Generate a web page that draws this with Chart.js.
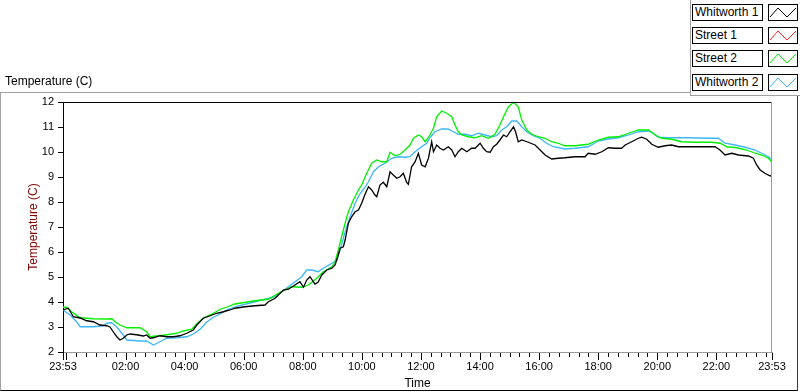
<!DOCTYPE html>
<html>
<head>
<meta charset="utf-8">
<script src="https://cdn.jsdelivr.net/npm/chart.js@4.4.1/dist/chart.umd.min.js"></script>
<style>
    body { margin: 0; background: #fff; font-family: "Liberation Sans", Arial, sans-serif; }
    #wrap { position: relative; width: 800px; height: 392px; overflow: hidden; }
    #frame {
        position: absolute; left: 0; top: 92px; width: 796px; height: 297px;
        border-left: 1px solid #a0a0a0; border-top: 1px solid #a0a0a0;
        border-right: 1px solid #404040; border-bottom: 1px solid #000;
    }
    #chart { position: absolute; left: 0; top: 0; }
    #title { position: absolute; left: 5px; top: 74px; font-size: 12px; color: #000; }
    #legend {
        position: absolute; left: 690px; top: 0; width: 110px; height: 95px; background: #fff;
        border-left: 1px solid #a0a0a0; border-bottom: 1px solid #a0a0a0;
    }
    .row { position: absolute; left: 1px; height: 17px; }
    .name {
        position: absolute; left: 0; top: 0; height: 15px; border: 1px solid #000;
        font-size: 12px; line-height: 15px; padding-left: 2px; width: 67px; white-space: nowrap;
    }
    .icon { position: absolute; left: 76px; top: 0; width: 28px; height: 15px; border: 1px solid #000; }
</style>
</head>
<body>
<div id="wrap">
    <div id="frame"></div>
    <canvas id="chart" width="800" height="392"></canvas>
    <div id="title">Temperature (C)</div>
    <div id="legend"></div>
</div>
<script>
// ===================== Data =====================
// time in hours since 23:53, temperature in C
const seriesNames = ['Whitworth 1', 'Street 1', 'Street 2', 'Whitworth 2'];
const seriesColors = ['#000000', '#ff2020', '#00f000', '#3cb6f5'];

const whitworth1Hours = [0.00,0.18,0.35,0.58,0.80,1.03,1.25,1.48,1.59,1.70,1.82,1.93,2.04,2.16,2.27,2.49,2.72,2.83,2.95,3.06,
    3.28,3.51,3.74,3.96,4.19,4.41,4.53,4.75,4.98,5.20,5.43,5.65,5.82,6.16,6.50,6.84,6.95,7.18,7.46,7.63,
    7.85,8.02,8.14,8.25,8.36,8.53,8.64,8.76,8.93,9.10,9.21,9.30,9.38,9.49,9.55,9.66,9.77,9.89,10.00,10.11,
    10.22,10.34,10.45,10.56,10.62,10.73,10.84,10.96,11.07,11.18,11.30,11.41,11.52,11.63,11.69,11.80,11.92,12.03,12.14,12.26,
    12.37,12.48,12.54,12.65,12.76,12.88,13.04,13.16,13.27,13.38,13.50,13.67,13.83,13.95,14.12,14.23,14.34,14.46,14.57,14.68,
    14.79,14.91,15.02,15.13,15.25,15.32,15.41,15.53,15.75,15.98,16.15,16.32,16.54,16.77,16.99,17.33,17.67,17.78,18.01,18.24,
    18.46,18.69,18.91,19.03,19.25,19.48,19.59,19.76,19.93,20.15,20.38,20.60,20.83,21.17,21.51,21.85,22.07,22.24,22.41,22.64,
    22.86,23.20,23.37,23.48,23.60,23.76,23.93,24.00];
const whitworth1Temp = [3.68,3.75,3.41,3.36,3.25,3.21,3.08,3.05,3.00,2.81,2.61,2.48,2.55,2.68,2.72,2.69,2.64,2.68,2.55,2.57,
    2.65,2.61,2.61,2.65,2.75,2.88,3.08,3.35,3.45,3.55,3.61,3.68,3.75,3.81,3.85,3.88,4.01,4.15,4.48,4.51,
    4.68,4.81,4.59,4.88,5.01,4.72,4.80,5.08,5.28,5.35,5.48,5.81,6.15,6.21,6.48,7.15,7.41,7.61,7.68,7.95,
    8.30,8.61,8.48,8.28,8.21,8.68,8.79,8.61,9.21,9.08,8.95,9.01,9.15,8.79,8.71,9.41,9.61,9.95,9.48,9.41,
    9.75,10.41,10.01,10.28,10.15,10.08,10.21,10.08,9.81,10.01,10.15,10.01,10.15,10.15,10.35,10.15,10.01,9.99,10.21,10.31,
    10.48,10.68,10.61,10.81,11.01,10.81,10.41,10.48,10.39,10.28,10.08,9.88,9.72,9.75,9.77,9.81,9.81,9.95,9.91,10.01,
    10.17,10.15,10.15,10.28,10.41,10.55,10.59,10.51,10.31,10.19,10.25,10.28,10.21,10.21,10.21,10.21,10.21,10.08,9.88,9.95,
    9.88,9.84,9.75,9.48,9.28,9.15,9.05,9.04];

// Street 1 has no samples in the picture
const street1Hours = [];
const street1Temp = [];

const street2Hours = [0.00,0.12,0.29,0.58,1.03,1.48,1.65,1.76,1.93,2.16,2.61,2.83,2.95,3.06,3.28,3.51,3.85,4.07,4.36,4.53,
    4.75,5.09,5.32,5.54,5.82,6.50,6.95,7.29,7.74,8.08,8.31,8.59,8.81,9.10,9.21,9.32,9.43,9.55,9.66,9.83,
    10.00,10.11,10.28,10.45,10.62,10.79,10.96,11.07,11.24,11.41,11.58,11.75,11.86,12.03,12.14,12.26,12.42,12.54,12.65,12.82,
    12.99,13.16,13.27,13.38,13.50,13.72,13.95,14.17,14.40,14.62,14.79,14.91,15.08,15.25,15.41,15.53,15.70,15.87,16.09,16.32,
    16.54,16.77,16.99,17.33,17.78,18.12,18.46,18.80,19.14,19.48,19.82,20.04,20.27,20.60,20.94,21.39,21.96,22.24,22.47,22.80,
    23.14,23.43,23.65,23.88,24.00];
const street2Temp = [3.79,3.79,3.61,3.37,3.33,3.32,3.33,3.21,3.08,2.97,2.97,2.81,2.61,2.63,2.65,2.69,2.75,2.84,2.91,3.13,
    3.36,3.55,3.71,3.79,3.92,4.05,4.11,4.35,4.61,4.59,4.68,4.95,5.21,5.41,5.61,6.08,6.61,7.15,7.61,8.08,
    8.48,8.68,9.15,9.55,9.68,9.61,9.61,9.99,9.85,9.91,10.08,10.28,10.55,10.68,10.61,10.41,10.68,10.95,11.41,11.64,
    11.55,11.41,11.08,10.81,10.68,10.61,10.57,10.65,10.55,10.71,11.08,11.41,11.81,11.99,11.81,11.28,10.88,10.71,10.61,10.55,
    10.41,10.35,10.25,10.25,10.31,10.48,10.59,10.61,10.75,10.88,10.88,10.68,10.55,10.51,10.41,10.39,10.39,10.35,10.21,10.17,
    10.08,9.95,9.88,9.75,9.59];

const whitworth2Hours = [0.00,0.24,0.46,0.58,1.03,1.37,1.48,1.65,1.82,2.04,2.16,2.61,2.83,3.06,3.28,3.51,3.85,4.19,4.41,4.64,
    4.86,5.09,5.32,5.54,5.85,6.50,7.18,7.63,8.08,8.25,8.42,8.64,8.81,9.10,9.27,9.38,9.55,9.72,9.89,10.06,
    10.20,10.34,10.51,10.68,10.90,11.13,11.35,11.58,11.75,11.92,12.14,12.31,12.42,12.59,12.82,13.04,13.21,13.38,13.61,13.83,
    14.06,14.29,14.51,14.68,14.85,15.02,15.19,15.36,15.53,15.70,15.92,16.15,16.37,16.60,16.99,17.33,17.78,18.12,18.46,18.80,
    19.14,19.48,19.82,19.98,20.15,20.49,21.17,21.85,22.18,22.41,22.75,23.09,23.43,23.65,23.88,24.00];
const whitworth2Temp = [3.68,3.48,3.21,3.01,3.01,3.05,3.15,3.17,3.00,2.68,2.48,2.44,2.44,2.28,2.41,2.55,2.57,2.61,2.72,2.91,
    3.19,3.39,3.52,3.68,3.82,4.01,4.21,4.61,5.01,5.28,5.28,5.21,5.35,5.55,5.68,6.08,6.81,7.41,7.95,8.35,
    8.55,8.81,9.21,9.41,9.55,9.75,9.81,9.79,9.81,10.01,10.21,10.35,10.57,10.81,10.92,10.92,10.81,10.71,10.71,10.65,
    10.75,10.68,10.61,10.65,10.88,11.01,11.24,11.24,11.01,10.81,10.65,10.55,10.35,10.21,10.12,10.15,10.21,10.44,10.52,10.57,
    10.68,10.81,10.84,10.75,10.59,10.57,10.57,10.55,10.55,10.35,10.28,10.19,10.08,9.95,9.81,9.68];

// labelled ticks on the time axis (hours since 23:53)
const xTickHours = [0, 2.1167, 4.1167, 6.1167, 8.1167, 10.1167, 12.1167, 14.1167, 16.1167, 18.1167, 20.1167, 22.1167, 24];
const xTickLabels = ['23:53', '02:00', '04:00', '06:00', '08:00', '10:00', '12:00', '14:00', '16:00', '18:00', '20:00', '22:00', '23:53'];

const seriesHours = [whitworth1Hours, street1Hours, street2Hours, whitworth2Hours];
const seriesTemp = [whitworth1Temp, street1Temp, street2Temp, whitworth2Temp];

// ===================== Chart =====================
Chart.defaults.font.family = '"Liberation Sans", Arial, sans-serif';
Chart.defaults.color = '#000';

// plot frame (top/right) and the minor/major time tick marks
const plotFrame = {
    id: 'plotFrame',
    afterDraw(chart) {
        const { ctx, chartArea: a, scales: { x } } = chart;
        ctx.save();
        ctx.lineWidth = 1;
        ctx.strokeStyle = '#000';
        ctx.beginPath();
        ctx.moveTo(a.left, a.top + 0.5);
        ctx.lineTo(a.right, a.top + 0.5);
        ctx.stroke();
        ctx.strokeStyle = '#9a9a9a';
        ctx.beginPath();
        ctx.moveTo(a.right - 0.5, a.top);
        ctx.lineTo(a.right - 0.5, a.bottom);
        ctx.stroke();

        ctx.strokeStyle = '#000';
        ctx.beginPath();
        const mark = (h, len) => {
            const px = Math.round(x.getPixelForValue(h)) + 0.5;
            ctx.moveTo(px, a.bottom + 1);
            ctx.lineTo(px, a.bottom + 1 + len);
        };
        mark(0, 7);
        mark(24, 7);
        for (let k = 0; k <= 71; k++) {
            mark(7 / 60 + k / 3, k % 6 === 0 ? 7 : 4);
        }
        ctx.stroke();
        ctx.restore();
    }
};

const ctx = document.getElementById('chart').getContext('2d');
const tempChart = new Chart(ctx, {
    type: 'line',
    data: {
        datasets: seriesNames.map((name, i) => ({
            label: name,
            data: seriesHours[i].map((h, j) => ({ x: h, y: seriesTemp[i][j] })),
            borderColor: seriesColors[i],
            backgroundColor: seriesColors[i],
            borderWidth: 1.3,
            pointRadius: 0,
            tension: 0,
            fill: false
        }))
    },
    options: {
        responsive: false,
        animation: false,
        devicePixelRatio: 1,
        layout: { padding: { left: 0, top: 102, right: 28, bottom: 0 } },
        plugins: {
            legend: { display: false },
            tooltip: { enabled: false }
        },
        scales: {
            x: {
                type: 'linear',
                min: 0,
                max: 24,
                afterBuildTicks: scale => {
                    scale.ticks = xTickHours.map(v => ({ value: v }));
                },
                afterFit: scale => { scale.height = 40; },
                ticks: {
                    autoSkip: false,
                    maxRotation: 0,
                    padding: 1,
                    font: { size: 11 },
                    callback: (value, index) => xTickLabels[index]
                },
                grid: { display: false, drawTicks: true, tickLength: 7 },
                border: { color: '#9a9a9a' },
                title: {
                    display: true,
                    text: 'Time',
                    font: { size: 12 },
                    padding: { top: 0, bottom: 1 }
                }
            },
            y: {
                min: 2,
                max: 12,
                afterFit: scale => { scale.width = 63; },
                ticks: { stepSize: 1, padding: 4, font: { size: 11 } },
                grid: { drawOnChartArea: false, tickLength: 5, tickColor: '#000' },
                border: { color: '#000' },
                title: {
                    display: true,
                    text: 'Temperature (C)',
                    color: '#800000',
                    font: { size: 12 },
                    padding: { top: 26, bottom: 0 }
                }
            }
        }
    },
    plugins: [plotFrame]
});

// ===================== Legend =====================
function buildLegend(chart) {
    const box = document.getElementById('legend');
    const tops = [4, 27, 50, 74];
    chart.data.datasets.forEach((ds, i) => {
        const row = document.createElement('div');
        row.className = 'row';
        row.style.top = tops[i] + 'px';
        row.innerHTML =
            '<div class="name">' + ds.label + '</div>' +
            '<div class="icon"><svg width="28" height="15"><polyline points="1,12 9,3 18,12 27,3" fill="none" stroke="' +
            ds.borderColor + '" stroke-width="1"/></svg></div>';
        box.appendChild(row);
    });
}

buildLegend(tempChart);
</script>
</body>
</html>
